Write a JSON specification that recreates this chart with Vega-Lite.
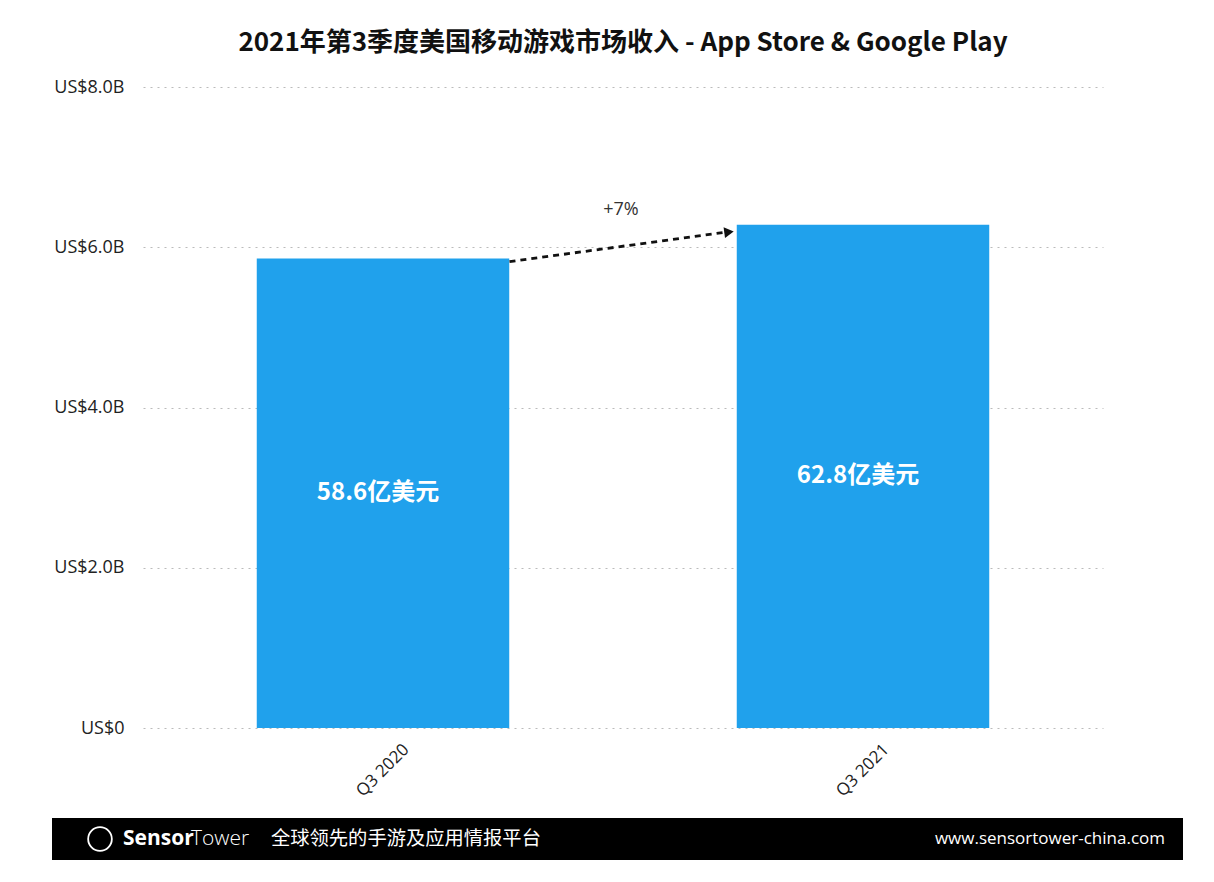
{
  "$schema": "https://vega.github.io/schema/vega-lite/v6.json",
  "width": 960,
  "height": 641,
  "autosize": {"type": "none"},
  "padding": {"left": 143, "top": 87, "right": 111, "bottom": 154},
  "background": "white",
  "config": {
    "font": "Noto Sans CJK SC",
    "view": {"stroke": null}
  },
  "title": {
    "text": "2021年第3季度美国移动游戏市场收入 - App Store & Google Play",
    "fontSize": 26,
    "fontWeight": "bold",
    "color": "#111111",
    "anchor": "middle",
    "offset": 22
  },
  "datasets": {
    "bars": [
      {"quarter": "Q3 2020", "revenue": 5.86, "label": "58.6亿美元"},
      {"quarter": "Q3 2021", "revenue": 6.28, "label": "62.8亿美元"}
    ],
    "arrow": [
      {"from": "Q3 2020", "to": "Q3 2021", "start": 5.82, "end": 6.19, "change": "+7%"}
    ],
    "footer": [
      {"brand": "Sensor", "brand2": "Tower", "tagline": "全球领先的手游及应用情报平台", "url": "www.sensortower-china.com"}
    ]
  },
  "layer": [
    {
      "data": {"name": "bars"},
      "mark": {"type": "bar", "color": "#20A1EC"},
      "encoding": {
        "x": {
          "field": "quarter",
          "type": "nominal",
          "sort": null,
          "scale": {"paddingInner": 0.474, "paddingOuter": 0.237},
          "axis": {
            "title": null,
            "labelAngle": -45,
            "labelAlign": "center",
            "labelBaseline": "middle",
            "labelPadding": 42,
            "labelFontSize": 17,
            "labelColor": "#222222",
            "labelFont": "Open Sans",
            "domain": false,
            "ticks": false
          }
        },
        "y": {
          "field": "revenue",
          "type": "quantitative",
          "scale": {"domain": [0, 8]},
          "axis": {
            "title": null,
            "values": [0, 2, 4, 6, 8],
            "labelExpr": "datum.value == 0 ? 'US$0' : 'US$' + format(datum.value, '.1f') + 'B'",
            "labelFontSize": 18,
            "labelFontWeight": 500,
            "labelColor": "#222222",
            "labelFont": "Open Sans",
            "labelPadding": 19,
            "domain": false,
            "ticks": false,
            "grid": true,
            "gridDash": [2, 5],
            "gridColor": "#bbbbbb",
            "gridWidth": 1.2
          }
        }
      }
    },
    {
      "data": {"name": "bars"},
      "transform": [{"calculate": "datum.revenue / 2", "as": "mid"}],
      "mark": {"type": "text", "color": "white", "fontSize": 24, "fontWeight": "bold", "align": "center", "baseline": "middle", "dx": -5},
      "encoding": {
        "x": {"field": "quarter", "type": "nominal", "sort": null},
        "y": {"field": "mid", "type": "quantitative"},
        "text": {"field": "label"}
      }
    },
    {
      "data": {"name": "arrow"},
      "mark": {"type": "rule", "strokeDash": [6, 5], "strokeWidth": 2.8, "color": "#111111", "xOffset": 126.5, "x2Offset": -136},
      "encoding": {
        "x": {"field": "from", "type": "nominal", "sort": null},
        "x2": {"field": "to"},
        "y": {"field": "start", "type": "quantitative"},
        "y2": {"field": "end"}
      }
    },
    {
      "data": {"name": "arrow"},
      "mark": {"type": "point", "shape": "triangle-right", "filled": true, "color": "#111111", "size": 120, "angle": -7.6, "opacity": 1, "xOffset": -134},
      "encoding": {
        "x": {"field": "to", "type": "nominal", "sort": null},
        "y": {"field": "end", "type": "quantitative"}
      }
    },
    {
      "data": {"name": "arrow"},
      "mark": {"type": "text", "fontSize": 18, "color": "#333333", "font": "Open Sans", "dx": 238, "dy": -22, "align": "center", "baseline": "middle"},
      "encoding": {
        "x": {"field": "from", "type": "nominal", "sort": null},
        "y": {"field": "end", "type": "quantitative"},
        "text": {"field": "change"}
      }
    },
    {
      "data": {"name": "footer"},
      "mark": {"type": "rect", "color": "black", "clip": false},
      "encoding": {
        "x": {"value": -91},
        "x2": {"value": 1040},
        "y": {"value": 731},
        "y2": {"value": 773}
      }
    },
    {
      "data": {"name": "footer"},
      "mark": {"type": "point", "shape": "circle", "filled": false, "stroke": "white", "strokeWidth": 1.8, "size": 560, "opacity": 1},
      "encoding": {
        "x": {"value": -43},
        "y": {"value": 752}
      }
    },
    {
      "data": {"name": "footer"},
      "mark": {"type": "text", "color": "white", "fontSize": 21, "fontWeight": "bold", "font": "Open Sans", "align": "left", "baseline": "middle"},
      "encoding": {
        "x": {"value": -20},
        "y": {"value": 752},
        "text": {"field": "brand"}
      }
    },
    {
      "data": {"name": "footer"},
      "mark": {"type": "text", "color": "white", "fontSize": 21, "fontWeight": 300, "font": "Open Sans", "align": "left", "baseline": "middle"},
      "encoding": {
        "x": {"value": 48},
        "y": {"value": 752},
        "text": {"field": "brand2"}
      }
    },
    {
      "data": {"name": "footer"},
      "mark": {"type": "text", "color": "white", "fontSize": 19.3, "align": "left", "baseline": "middle"},
      "encoding": {
        "x": {"value": 128},
        "y": {"value": 752},
        "text": {"field": "tagline"}
      }
    },
    {
      "data": {"name": "footer"},
      "mark": {"type": "text", "color": "white", "fontSize": 17, "font": "Open Sans", "align": "right", "baseline": "middle"},
      "encoding": {
        "x": {"value": 1022},
        "y": {"value": 752},
        "text": {"field": "url"}
      }
    }
  ]
}
